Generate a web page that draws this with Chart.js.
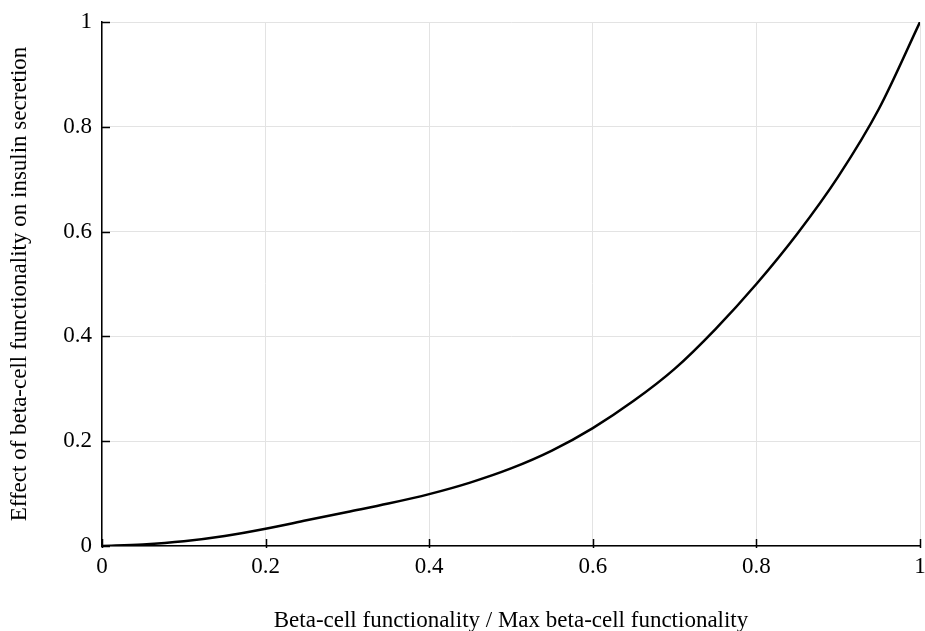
<!DOCTYPE html>
<html>
<head>
<meta charset="utf-8">
<script src="https://cdn.jsdelivr.net/npm/chart.js@4"></script>
<style>
  html, body { margin: 0; padding: 0; background: #fff; }
  #wrap { width: 925px; height: 631px; }
</style>
</head>
<body>
<div id="wrap"><canvas id="lineChart"></canvas></div>
<script>
// beta-cell functionality ratio (x) and its effect on insulin secretion (y)
var functionality = [0, 0.05, 0.1, 0.15, 0.2, 0.25, 0.3, 0.35, 0.4, 0.45, 0.5,
                     0.55, 0.6, 0.65, 0.7, 0.75, 0.8, 0.85, 0.9, 0.95, 1];
var effect = [0, 0.003, 0.009, 0.019, 0.033, 0.049, 0.065, 0.081, 0.099, 0.121, 0.148,
              0.182, 0.225, 0.277, 0.338, 0.414, 0.5, 0.596, 0.705, 0.835, 1];
var tickValues = [0, 0.2, 0.4, 0.6, 0.8, 1];
var tickLabels = ['0', '0.2', '0.4', '0.6', '0.8', '1'];

var points = functionality.map(function(x, i) { return { x: x, y: effect[i] }; });
var fontFamily = '"Liberation Serif", "Times New Roman", serif';

// short tick marks pointing into the plot area
var innerTicks = {
    id: 'innerTicks',
    afterDraw: function(chart) {
        var ctx = chart.ctx;
        var xs = chart.scales.x, ys = chart.scales.y;
        var area = chart.chartArea;
        ctx.save();
        ctx.strokeStyle = '#000';
        ctx.lineWidth = 1.5;
        ctx.beginPath();
        tickValues.forEach(function(v) {
            var px = Math.round(xs.getPixelForValue(v)) + 0.5;
            ctx.moveTo(px, area.bottom - 7);
            ctx.lineTo(px, area.bottom + 2);
            var py = Math.round(ys.getPixelForValue(v)) + 0.5;
            ctx.moveTo(area.left - 1, py);
            ctx.lineTo(area.left + 8, py);
        });
        ctx.stroke();
        ctx.restore();
    }
};

function labelFor(value) {
    var i = tickValues.indexOf(Math.round(value * 10) / 10);
    return i >= 0 ? tickLabels[i] : '';
}

var ctx = document.getElementById('lineChart').getContext('2d');
var chart = new Chart(ctx, {
    type: 'line',
    data: {
        datasets: [{
            data: points,
            borderColor: '#000',
            borderWidth: 2.5,
            pointRadius: 0,
            fill: false,
            cubicInterpolationMode: 'monotone'
        }]
    },
    options: {
        responsive: true,
        maintainAspectRatio: false,
        animation: false,
        layout: { padding: { top: 22, right: 5, left: 0, bottom: 0 } },
        plugins: {
            legend: { display: false },
            tooltip: { enabled: false }
        },
        scales: {
            x: {
                type: 'linear',
                min: 0,
                max: 1,
                afterBuildTicks: function(scale) {
                    scale.ticks = tickValues.map(function(v) { return { value: v }; });
                },
                afterFit: function(scale) {
                    scale.height = 85;
                    scale.paddingRight = 0;
                    scale.paddingLeft = 0;
                },
                grid: { color: '#e3e3e3', lineWidth: 1, drawTicks: false },
                border: { color: '#000', width: 1.5 },
                ticks: { color: '#000', padding: 7, maxRotation: 0, callback: labelFor,
                         font: { family: fontFamily, size: 23 } },
                title: {
                    display: true,
                    text: 'Beta-cell functionality / Max beta-cell functionality',
                    color: '#000',
                    padding: { top: 0, bottom: -4 },
                    font: { family: fontFamily, size: 23 }
                }
            },
            y: {
                type: 'linear',
                min: 0,
                max: 1,
                afterBuildTicks: function(scale) {
                    scale.ticks = tickValues.map(function(v) { return { value: v }; });
                },
                afterFit: function(scale) {
                    scale.width = 102;
                    scale.paddingTop = 0;
                    scale.paddingBottom = 0;
                },
                grid: { color: '#e3e3e3', lineWidth: 1, drawTicks: false },
                border: { color: '#000', width: 1.5 },
                ticks: { color: '#000', padding: 10, callback: labelFor,
                         font: { family: fontFamily, size: 23 } },
                title: {
                    display: true,
                    text: 'Effect of beta-cell functionality on insulin secretion',
                    color: '#000',
                    padding: { top: 6, bottom: 0 },
                    font: { family: fontFamily, size: 23 }
                }
            }
        }
    },
    plugins: [innerTicks]
});
</script>
</body>
</html>
